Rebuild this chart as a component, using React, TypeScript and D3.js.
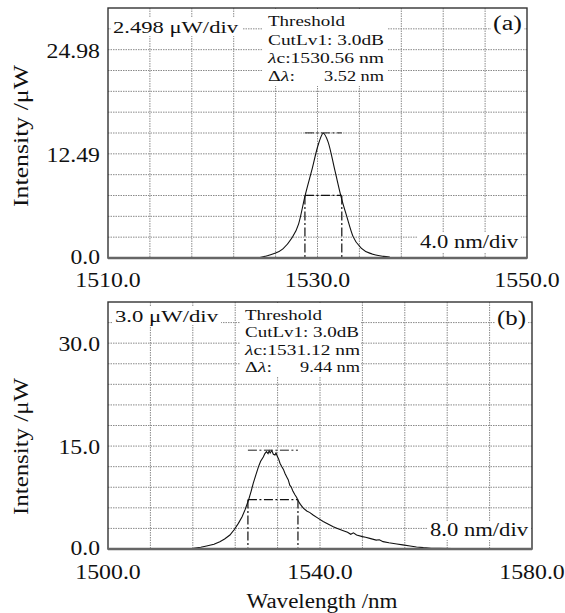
import React from 'react';
import * as d3 from 'd3';

// ---------- data (a) ----------
const A_WAVELENGTH = [1524.3, 1525.0, 1525.8, 1526.7, 1527.5, 1528.2, 1528.8, 1529.45, 1530.1, 1530.55, 1531.0, 1531.66, 1532.24, 1532.8, 1533.4, 1534.2, 1535.2, 1536.3, 1536.9];
const A_INTENSITY = [0, 0.2, 0.5, 1.1, 2.3, 4.1, 7.4, 10.5, 13.7, 14.95, 13.95, 10.5, 7.4, 4.96, 2.56, 1.16, 0.48, 0.2, 0.1];
const A_X_TICKS = [1510, 1530, 1550];
const A_X_LABELS = ['1510.0', '1530.0', '1550.0'];
const A_Y_TICKS = [0, 12.49, 24.98];
const A_Y_LABELS = ['0.0', '12.49', '24.98'];
const A_PEAK = 15.0;
const A_CENTER = 1530.56;
const A_WIDTH = 3.52;

// ---------- data (b) ----------
const B_WAVELENGTH = [1513.0, 1514.5, 1516.1, 1517.5, 1518.6, 1520.0, 1521.1, 1522.0, 1523.0, 1523.8, 1524.6, 1525.3, 1525.85, 1526.5, 1527.0, 1527.4, 1527.9, 1528.4, 1528.8, 1529.3, 1529.6, 1529.9, 1530.2, 1530.4, 1530.6, 1530.9, 1531.2, 1531.5, 1531.7, 1531.9, 1532.2, 1532.45, 1532.8, 1533.1, 1533.4, 1533.8, 1534.0, 1534.3, 1534.6, 1534.9, 1535.3, 1535.6, 1535.9, 1536.3, 1536.85, 1537.5, 1538.1, 1538.7, 1539.6, 1540.6, 1541.5, 1542.5, 1543.4, 1544.4, 1545.2, 1545.8, 1546.3, 1546.9, 1548.0, 1548.6, 1549.4, 1550.6, 1551.2, 1551.9, 1553.0, 1554.5, 1555.6, 1557.0, 1558.2, 1559.5, 1561.0, 1562.6, 1565.0, 1569.0];
const B_INTENSITY = [0, 0.03, 0.1, 0.25, 0.44, 0.7, 1.07, 1.45, 2.04, 2.8, 3.74, 4.7, 5.7, 7.1, 8.4, 9.56, 10.8, 12.0, 12.8, 13.4, 13.9, 14.2, 13.9, 14.3, 14.0, 14.35, 13.8, 13.7, 14.0, 13.6, 13.1, 12.5, 12.0, 11.6, 11.0, 10.4, 10.1, 9.3, 9.0, 8.4, 7.86, 7.5, 7.0, 6.5, 5.95, 5.55, 5.3, 4.95, 4.5, 4.0, 3.65, 3.25, 2.95, 2.67, 2.45, 2.15, 2.35, 2.04, 1.8, 1.7, 1.55, 1.3, 1.35, 1.07, 0.9, 0.73, 0.6, 0.44, 0.3, 0.2, 0.12, 0.1, 0.05, 0.02];
const B_X_TICKS = [1500, 1540, 1580];
const B_X_LABELS = ['1500.0', '1540.0', '1580.0'];
const B_Y_TICKS = [0, 15, 30];
const B_Y_LABELS = ['0.0', '15.0', '30.0'];
const B_PEAK = 14.4;
const B_CENTER = 1531.12;
const B_WIDTH = 9.44;

const FONT = "'Liberation Serif', 'DejaVu Serif', serif";
const ADJ = 'spacingAndGlyphs';

type Box = [number, number, number, number];
type Cfg = {
  wl: number[]; it: number[];
  xDomain: [number, number]; xDiv: number;
  yDiv: number; nRows: number;
  left: number; right: number; top: number; bottom: number;
  xTicks: number[]; xLabels: string[]; yTicks: number[]; yLabels: string[];
  xLabelY: number;
  peak: number; center: number; width: number;
  smooth: boolean;
  scaleText: string; scaleTextLen: number; scaleBox: Box; scaleBase: number;
  blockX: number; blockRight: number; blockBase: number[]; blockBox: Box;
  threshLen: number; cutLen: number; lcLen: number;
  lc: string; dl: string;
  tag: string; tagX: number; tagBase: number; tagBox: Box;
  divText: string; divX: number; divLen: number; divBase: number; divBox: Box;
  yTitleCenter: number; yTitleLen: number;
};

// approximate rendered widths (px) of tick label strings at the reference size
const labelWidth = (s: string) => s.replace(/\./g, '').length * 12 + (s.includes('.') ? 5.5 : 0);

function Panel({ c }: { c: Cfg }) {
  const x = d3.scaleLinear().domain(c.xDomain).range([c.left, c.right]);
  const y = d3.scaleLinear().domain([0, c.yDiv * c.nRows]).range([c.bottom, c.top]);
  const nCols = Math.round((c.xDomain[1] - c.xDomain[0]) / c.xDiv);
  const cols = d3.range(1, nCols).map((i) => c.xDomain[0] + i * c.xDiv);
  const rows = d3.range(1, c.nRows).map((i) => i * c.yDiv);
  const pts: [number, number][] = c.wl.map((w, i) => [w, c.it[i]]);
  const line = d3
    .line<[number, number]>()
    .x((d) => x(d[0]))
    .y((d) => y(d[1]))
    .curve(c.smooth ? d3.curveMonotoneX : d3.curveLinear);
  const l = c.center - c.width / 2;
  const r = c.center + c.width / 2;
  const half = c.peak / 2;
  const dash = '9,2.5,2,2.5';
  const rect = (b: Box) => <rect x={b[0]} y={b[1]} width={b[2]} height={b[3]} fill="#fff" />;
  const fs = 14.5;
  return (
    <g style={{ fontFamily: FONT }} fill="#111">
      {cols.map((v) => (
        <line key={'c' + v} x1={x(v)} x2={x(v)} y1={c.top} y2={c.bottom} stroke="#8a8a8a" strokeWidth={1} strokeDasharray="1.5,1" />
      ))}
      {rows.map((v) => (
        <line key={'r' + v} x1={c.left} x2={c.right} y1={y(v)} y2={y(v)} stroke="#8a8a8a" strokeWidth={1} strokeDasharray="1.5,1" />
      ))}
      {rect(c.scaleBox)}
      {rect(c.blockBox)}
      {rect(c.tagBox)}
      {rect(c.divBox)}
      <path d={line(pts) || ''} fill="none" stroke="#111" strokeWidth={1.1} />
      <line x1={x(l)} x2={x(r)} y1={y(c.peak)} y2={y(c.peak)} stroke="#222" strokeWidth={1} strokeDasharray={dash} />
      <line x1={x(l)} x2={x(r)} y1={y(half)} y2={y(half)} stroke="#111" strokeWidth={1.2} strokeDasharray={dash} />
      <line x1={x(l)} x2={x(l)} y1={y(half)} y2={c.bottom} stroke="#111" strokeWidth={1.2} strokeDasharray={dash} />
      <line x1={x(r)} x2={x(r)} y1={y(half)} y2={c.bottom} stroke="#111" strokeWidth={1.2} strokeDasharray={dash} />
      {/* frame */}
      <rect x={c.left} y={c.top} width={c.right - c.left} height={c.bottom - c.top} fill="none" stroke="#333" strokeWidth={1.4} />
      <line x1={c.left} x2={c.right} y1={c.bottom} y2={c.bottom} stroke="#666" strokeWidth={2.4} />
      {/* inside texts */}
      <text x={c.scaleBox[0] + 2} y={c.scaleBase} fontSize={16.5} textLength={c.scaleTextLen} lengthAdjust={ADJ}>{c.scaleText}</text>
      <text x={c.blockX} y={c.blockBase[0]} fontSize={fs} textLength={c.threshLen} lengthAdjust={ADJ}>Threshold</text>
      <text x={c.blockX} y={c.blockBase[1]} fontSize={fs} textLength={c.cutLen} lengthAdjust={ADJ}>CutLv1: 3.0dB</text>
      <text x={c.blockX} y={c.blockBase[2]} fontSize={fs} textLength={c.lcLen} lengthAdjust={ADJ}>
        <tspan fontStyle="italic">λ</tspan>c:{c.lc} nm
      </text>
      <text x={c.blockX} y={c.blockBase[3]} fontSize={fs} textLength={27} lengthAdjust={ADJ}>
        Δ<tspan fontStyle="italic">λ</tspan>:
      </text>
      <text x={c.blockRight} y={c.blockBase[3]} fontSize={fs} textAnchor="end" textLength={60} lengthAdjust={ADJ}>{c.dl} nm</text>
      <text x={c.tagX} y={c.tagBase} fontSize={20} textLength={29} lengthAdjust={ADJ}>{c.tag}</text>
      <text x={c.divX} y={c.divBase} fontSize={18} textLength={c.divLen} lengthAdjust={ADJ}>{c.divText}</text>
      {/* tick labels */}
      {c.yTicks.map((v, i) => (
        <text key={'yl' + v} x={100} y={y(v)} dy={i === 0 ? '0.25em' : '0.36em'} fontSize={22} textAnchor="end" textLength={labelWidth(c.yLabels[i])} lengthAdjust={ADJ}>{c.yLabels[i]}</text>
      ))}
      {c.xTicks.map((v, i) => (
        <text key={'xl' + v} x={x(v)} y={c.xLabelY} fontSize={22} textAnchor="middle" textLength={labelWidth(c.xLabels[i])} lengthAdjust={ADJ}>{c.xLabels[i]}</text>
      ))}
      <text transform={`translate(28,${c.yTitleCenter}) rotate(-90)`} fontSize={20.5} textAnchor="middle" textLength={c.yTitleLen} lengthAdjust={ADJ}>Intensity /μW</text>
    </g>
  );
}

const CFG_A: Cfg = {
  wl: A_WAVELENGTH, it: A_INTENSITY,
  xDomain: [1510, 1550], xDiv: 4, yDiv: 2.498, nRows: 12,
  left: 108, right: 527, top: 8, bottom: 258,
  xTicks: A_X_TICKS, xLabels: A_X_LABELS, yTicks: A_Y_TICKS, yLabels: A_Y_LABELS,
  xLabelY: 287,
  peak: A_PEAK, center: A_CENTER, width: A_WIDTH, smooth: true,
  scaleText: '2.498 μW/div', scaleTextLen: 125, scaleBox: [111, 17, 131, 19], scaleBase: 32.5,
  blockX: 268, blockRight: 384, blockBase: [26, 44.5, 62.5, 80.5], blockBox: [263, 9, 125, 77],
  threshLen: 77, cutLen: 116, lcLen: 116,
  lc: '1530.56', dl: '3.52',
  tag: '(a)', tagX: 493, tagBase: 29.5, tagBox: [491, 11, 33, 24],
  divText: '4.0 nm/div', divX: 420, divLen: 98, divBase: 248, divBox: [417, 233, 104, 19],
  yTitleCenter: 136, yTitleLen: 142,
};

const CFG_B: Cfg = {
  wl: B_WAVELENGTH, it: B_INTENSITY,
  xDomain: [1500, 1580], xDiv: 8, yDiv: 3, nRows: 12,
  left: 108, right: 532, top: 302, bottom: 549,
  xTicks: B_X_TICKS, xLabels: B_X_LABELS, yTicks: B_Y_TICKS, yLabels: B_Y_LABELS,
  xLabelY: 578.5,
  peak: B_PEAK, center: B_CENTER, width: B_WIDTH, smooth: false,
  scaleText: '3.0 μW/div', scaleTextLen: 103, scaleBox: [113, 307, 108, 18], scaleBase: 321.7,
  blockX: 245, blockRight: 360, blockBase: [320, 337.3, 354.6, 372], blockBox: [240, 303, 121, 74],
  threshLen: 77, cutLen: 114, lcLen: 115,
  lc: '1531.12', dl: '9.44',
  tag: '(b)', tagX: 497, tagBase: 325, tagBox: [495, 307, 32, 22],
  divText: '8.0 nm/div', divX: 430, divLen: 98, divBase: 536, divBox: [427, 521, 104, 19],
  yTitleCenter: 446.5, yTitleLen: 137,
};

export default function App() {
  return (
    <svg width={565} height={613} viewBox="0 0 565 613" style={{ position: 'absolute', left: 0, top: 0, background: '#fff' }}>
      <rect x={0} y={0} width={565} height={613} fill="#fff" />
      <Panel c={CFG_A} />
      <Panel c={CFG_B} />
      <text x={322} y={608} style={{ fontFamily: FONT }} fontSize={20.5} textAnchor="middle" textLength={151} lengthAdjust={ADJ} fill="#111">Wavelength /nm</text>
    </svg>
  );
}
